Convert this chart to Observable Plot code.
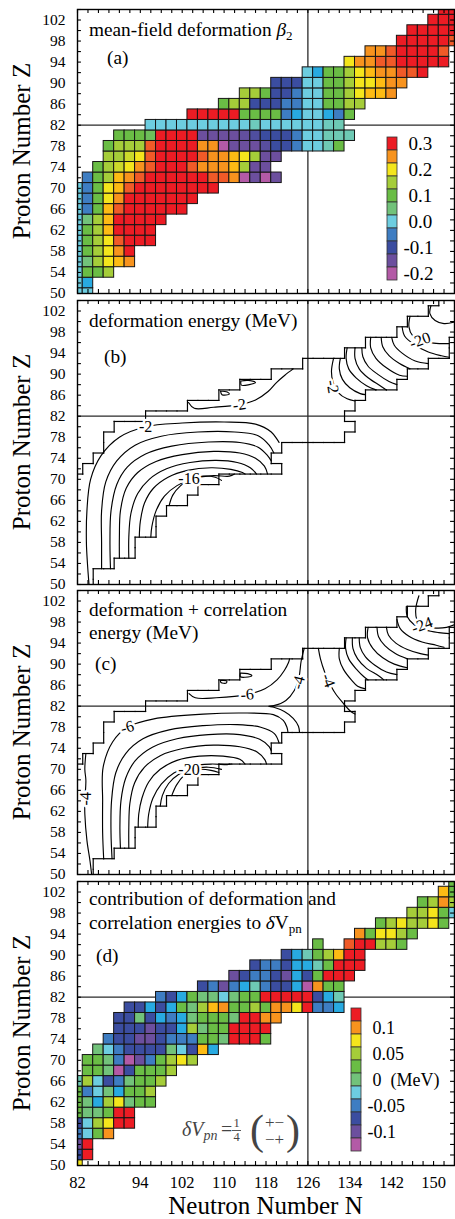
<!DOCTYPE html>
<html><head><meta charset="utf-8">
<script src="https://cdn.jsdelivr.net/npm/d3@7"></script>
<script src="https://cdn.jsdelivr.net/npm/@observablehq/plot@0.6"></script>
<style>
body{margin:0;background:#fff;overflow:hidden;}
#chart{position:relative;width:455px;height:1219px;font-family:"Liberation Serif",serif;}
#chart svg{position:absolute;left:0;overflow:visible;}
</style></head><body><div id="chart"></div>
<script>
// ---------------- data ----------------
const xTickLabels = [82, 94, 102, 110, 118, 126, 134, 142, 150];
const yTickLabels = [50, 54, 58, 62, 66, 70, 74, 78, 82, 86, 90, 94, 98, 102];
const palette = ["#b35aa6","#6c4f9e","#3b4da0","#3e7dc2","#28aae1","#6dcde0","#6ec9b4","#72c27a","#6abd45","#a5cd39","#f4e51c","#fdbb14","#f7931e","#f05a28","#ec1c24"];
const betaStops = [-0.2,-0.15,-0.1,-0.05,-0.025,0,0.025,0.05,0.1,0.15,0.2,0.225,0.25,0.275,0.3];
const dvpnStops = [-0.125,-0.1,-0.075,-0.05,-0.0375,-0.025,-0.0125,0,0.025,0.05,0.075,0.0875,0.1,0.1125,0.125];

// beta2 per even-even nucleus: row Z, first N, values for N, N+2, ...
const betaRows = [
 {Z:50,N0:82,v:[0,0]},
 {Z:52,N0:82,v:[0,-0.025]},
 {Z:54,N0:82,v:[0,0.1,0.1,0.15]},
 {Z:56,N0:82,v:[0,0.05,0.15,0.2,0.225,0.25]},
 {Z:58,N0:82,v:[0,0.1,0.15,0.2,0.25,0.3]},
 {Z:60,N0:82,v:[0,0.1,0.15,0.2,0.275,0.3,0.3,0.3]},
 {Z:62,N0:82,v:[0,0.1,0.15,0.225,0.3,0.3,0.3,0.3]},
 {Z:64,N0:82,v:[0,0.05,0.15,0.225,0.3,0.3,0.3,0.3,0.3]},
 {Z:66,N0:82,v:[0,-0.05,0.1,0.225,0.275,0.3,0.3,0.3,0.3,0.3,0.3]},
 {Z:68,N0:82,v:[0,-0.05,0.1,0.2,0.25,0.3,0.3,0.3,0.3,0.3,0.3,0.3]},
 {Z:70,N0:82,v:[0,-0.05,0.1,0.2,0.225,0.275,0.3,0.3,0.3,0.3,0.3,0.3,0.3,0.3]},
 {Z:72,N0:84,v:[-0.05,0.1,0.15,0.225,0.25,0.275,0.3,0.3,0.3,0.3,0.3,0.3,0.275,0.275,0.25,-0.2,-0.15,-0.2,-0.15]},
 {Z:74,N0:86,v:[0.1,0.15,0.175,0.2,0.25,0.275,0.3,0.3,0.3,0.275,0.25,0.25,0.25,0.225,0.15,-0.15,-0.15]},
 {Z:76,N0:88,v:[0.15,0.15,0.175,0.2,0.275,0.3,0.3,0.3,0.3,0.275,0.25,0.25,0.225,0.2,0.15,-0.15,-0.15]},
 {Z:78,N0:88,v:[0.1,0.15,0.15,0.15,0.275,0.3,0.3,0.3,0.3,0.25,0.25,-0.2,-0.15,-0.15,-0.15,-0.13,-0.1,-0.1,-0.05,0,0,0.025,0.1]},
 {Z:80,N0:90,v:[0.1,0.1,0.1,0.08,0.3,0.3,0.3,0.3,-0.15,-0.15,-0.15,-0.15,-0.14,-0.12,-0.1,-0.1,-0.1,-0.05,0,0,0.025,0.025,0.025]},
 {Z:82,N0:96,v:[0,0,0,0,0,0,0,0,0,0,0.02,0,0,0,0,0,0,0.02,0.025]},
 {Z:84,N0:104,v:[0.3,0.3,0.3,0.3,0.3,0.1,0.1,0.1,0.1,-0.05,-0.025,0,0,-0.025,-0.05,0.1]},
 {Z:86,N0:110,v:[0.1,0.15,0.15,-0.1,-0.1,-0.1,-0.05,-0.05,0,0,0.1,0.1,0.15,0.15]},
 {Z:88,N0:114,v:[0.15,0.15,0.1,-0.1,-0.1,-0.05,0,0,0.1,0.1,0.15,0.2,0.225,0.225,0.25]},
 {Z:90,N0:120,v:[-0.1,-0.1,-0.1,0,0,0.1,0.1,0.15,0.2,0.2,0.225,0.25,0.25]},
 {Z:92,N0:126,v:[0,-0.025,0.1,0.1,0.15,0.2,0.225,0.25,0.25,0.275,0.275,0.3]},
 {Z:94,N0:134,v:[0.2,0.25,0.25,0.275,0.275,0.3,0.3,0.3,0.3,0.3]},
 {Z:96,N0:138,v:[0.25,0.25,0.275,0.3,0.3,0.3,0.3,0.275]},
 {Z:98,N0:144,v:[0.3,0.3,0.3,0.3,0.3,0.275]},
 {Z:100,N0:146,v:[0.3,0.3,0.3,0.3,0.3]},
 {Z:102,N0:150,v:[0.3,0.3,0.3]},
 {Z:104,N0:152,v:[0.3,0.3]}
];

// deformation + correlation contribution to dVpn (MeV)
const dvpnRows = [
 {Z:50,N0:82,v:[0.075]},
 {Z:52,N0:82,v:[-0.075,0.125]},
 {Z:54,N0:82,v:[-0.1,0.125]},
 {Z:56,N0:82,v:[-0.05,-0.025,0.025,0.1]},
 {Z:58,N0:82,v:[-0.075,-0.025,0.05,0.075,0.125,0.125]},
 {Z:60,N0:82,v:[0.025,0,0,0.025,0.125,0.125]},
 {Z:62,N0:82,v:[0.025,0,-0.0375,0.05,0.075,0,0.025,0.025]},
 {Z:64,N0:82,v:[0.025,-0.05,-0.025,0,-0.0375,0.025,0.025,0.05]},
 {Z:66,N0:82,v:[-0.0125,0.05,-0.025,-0.075,-0.05,0,0.025,0.025,0.05]},
 {Z:68,N0:84,v:[0.025,0.025,0,-0.125,-0.075,0.025,0.025,0.025,0.05]},
 {Z:70,N0:84,v:[0.025,0.025,0,-0.05,-0.125,-0.1,-0.05,0.025,0.05,0.075,0.05]},
 {Z:72,N0:86,v:[0,-0.025,-0.05,-0.075,-0.075,-0.075,-0.075,0,-0.025,-0.075,0.0875,-0.0375]},
 {Z:74,N0:88,v:[-0.05,-0.075,-0.075,-0.1,-0.1,-0.075,-0.05,-0.05,-0.05,0.025,0.025,0,0.125,0.125,0.125,0.025]},
 {Z:76,N0:90,v:[-0.075,-0.075,-0.075,-0.1,-0.075,-0.075,-0.0375,0.05,0,0.025,0.025,0.125,0.125,0.125,0.125]},
 {Z:78,N0:90,v:[-0.075,-0.075,0,-0.075,-0.0375,-0.05,-0.0375,0,0.025,0.025,0.025,0,0.125,0.125,0.1,0.1]},
 {Z:80,N0:92,v:[-0.075,-0.075,-0.0375,-0.075,-0.0375,0.025,0,0.05,0.0875,0.1,0.025,0.025,0.05,0.025,0.1,0.1,0.075,0.125,-0.05,-0.05,-0.0375]},
 {Z:82,N0:98,v:[-0.05,-0.075,-0.0375,0.025,0,0,-0.025,0,0.025,0.025,0.125,0.125,0.125,0.125,0.125,-0.075,-0.0375,-0.0125]},
 {Z:84,N0:106,v:[-0.075,-0.05,-0.1,-0.05,-0.0375,-0.0125,-0.05,-0.075,-0.075,-0.0375,-0.125,0.1,0.025,0.025]},
 {Z:86,N0:112,v:[-0.1,-0.075,-0.05,-0.05,-0.075,-0.1,-0.0375,-0.075,0.025,0.125,0.125,0.125]},
 {Z:88,N0:116,v:[-0.075,-0.05,-0.05,-0.075,-0.0375,-0.0375,-0.0125,0.025,0.125,0.125,0.125]},
 {Z:90,N0:122,v:[-0.075,-0.0375,-0.0125,0.025,0.05,0.0875,0.125,0.125]},
 {Z:92,N0:128,v:[0.025]},
 {Z:92,N0:134,v:[0.1125,0.125,0.125,0.05,0.05,0.025]},
 {Z:94,N0:136,v:[0.1,0.025,0.075,0.075,0.05,0.025]},
 {Z:96,N0:140,v:[0.025,0.05,0.075,0.05,0.05,0.075,0.025]},
 {Z:98,N0:146,v:[0.05,0.05,0.075,0.025,-0.025]},
 {Z:100,N0:148,v:[0.025,0.05,0.1,0.05]},
 {Z:102,N0:152,v:[0.0875,0.025]},
 {Z:104,N0:154,v:[0.025]}
];

// contour lines (N, Z) of the deformation energy (b)
const contoursB = [
 {v:-2, pts:[[84.2,50],[83.9,54],[83.7,58],[83.8,64],[84.5,70],[86.5,74.5],[90,78],[95,80],[102,80.7],[110,80.9],[116,80.5],[119,79],[120.5,77]]},
 {v:-4, pts:[[86.6,53],[86.6,58],[86.6,64],[87.4,69.5],[89.5,73.5],[93,76.5],[98,78.2],[105,79],[112,79],[116.5,78.3],[118.6,76.5],[119.5,75]]},
 {v:-6, pts:[[88.3,53],[88.2,58],[88.4,64],[89.5,69],[91.5,72.3],[95,74.8],[100,76.3],[107,77.1],[113,77],[116.5,76.1],[118.3,74.5],[119,73.5]]},
 {v:-8, pts:[[90,55],[90,59],[90.2,64],[91.3,68.3],[93.5,71.3],[97,73.4],[102,74.7],[108,75.3],[113,75],[116,74],[117.7,72.5],[118.3,71]]},
 {v:-10, pts:[[91.8,55],[91.8,59],[92.2,63.5],[93.5,67.3],[95.7,70],[99,72],[103.5,73.2],[108.5,73.6],[112.5,73.2],[115,72.2],[116.2,71]]},
 {v:-12, pts:[[93.8,59],[94,62],[94.8,65.5],[96.5,68.3],[99.3,70.4],[103,71.7],[107.5,72.2],[111.3,71.9],[113.5,71.3],[114,71]]},
 {v:-14, pts:[[96,59],[96.2,61],[97,64],[98.6,66.8],[101,68.8],[104.3,70.2],[108,70.7],[111,70.6],[112,71]]},
 {v:-16, pts:[[99.5,65],[100.2,67],[101.7,68.8],[103.5,70],[106,70.6],[108.3,70.4],[109.5,69.8]]},
 {v:-2, pts:[[103.2,84.6],[104.3,83.5],[108,83.7],[112.9,84.2],[116,85.1],[118.4,86.7],[120,88.4],[121.6,89.8],[123.2,91]]},
 {v:-2, pts:[[113.2,88.7],[114.6,88.8],[116,88.4],[114.8,88],[113.3,87.9],[113.2,88.7]]},
 {v:-2, pts:[[109.3,86.8],[110.6,86.6],[111,86.2],[109.6,86.1],[109.3,86.8]]},
 {v:-2, pts:[[130.9,93],[130.5,90.5],[130.8,88.5],[131.8,86.5],[133.5,85.3],[135,84.9]]},
 {v:-4, pts:[[132.2,93],[132,91],[132.6,89],[134,87.4],[136,86.3],[137,86.1]]},
 {v:-6, pts:[[133.5,95],[133.3,93],[133.8,91],[135.2,89.3],[137.2,87.8],[139,87]]},
 {v:-8, pts:[[135,95],[135,93],[135.8,91],[137.5,89.3],[139.8,87.8],[141,87]]},
 {v:-10, pts:[[136.3,95],[136.5,93.3],[137.5,91.5],[139.3,90],[141.5,88.6],[143,88]]},
 {v:-12, pts:[[138,97],[138,95],[139,93],[141,91.2],[143.5,89.8],[145,89.6]]},
 {v:-14, pts:[[140,97],[140.3,95.2],[141.5,93.5],[143.5,92],[145.5,91]]},
 {v:-16, pts:[[142,97],[142.5,95.5],[144,94],[146.5,92.5],[149,92]]},
 {v:-18, pts:[[144,99],[144.5,97.2],[146.5,95.5],[149,94.2],[151.5,93.5],[153,93.2]]},
 {v:-20, pts:[[145.5,101],[145.3,99],[146,97.3],[147.5,96.4],[150,95.9],[153,95.8]]},
 {v:-22, pts:[[149.5,103],[149.3,101.5],[150.3,100.2],[152,99.6],[154,99.9]]}
];
const labelsB = [
 {N:95,Z:80,t:"-2",r:0},{N:103.3,Z:70.1,t:"-16",r:0},{N:112.9,Z:84.2,t:"-2",r:-8},
 {N:130.7,Z:87.6,t:"-2",r:80},{N:147.4,Z:96.4,t:"-20",r:-20}
];

// contour lines (N, Z) of the deformation + correlation energy (c)
const contoursC = [
 {v:-4, pts:[[83.6,73],[83.4,70],[83.6,67.9],[83.4,64],[83.4,61.5],[83.8,56.5],[84.4,52.5],[84.7,50]]},
 {v:-6, pts:[[87,53],[86.8,58],[86.8,64],[86.9,70.4],[88.7,75.2],[91.5,78],[96.6,79.6],[106,80.5],[114.4,80.7],[119.4,80.4],[121.3,79.3],[122,78],[122.2,77]]},
 {v:-8, pts:[[88.6,53],[88.4,58],[88.5,64],[89.3,69.3],[91.2,73],[94.5,75.8],[99.5,77.5],[106,78.3],[112.5,78.5],[117,78],[119.6,76.8],[120.5,75]]},
 {v:-10, pts:[[90.2,55],[90.1,59],[90.3,64],[91.2,68.3],[93,71.6],[96.3,74.2],[101,75.8],[107,76.6],[113,76.6],[116.8,75.7],[118.6,74.3],[119,73.5]]},
 {v:-12, pts:[[91.8,55],[91.8,59],[92,63.5],[92.9,67.4],[94.8,70.4],[97.8,72.6],[102.3,74],[108,74.6],[113,74.3],[116.3,73.3],[117.8,71.8],[118.1,71]]},
 {v:-14, pts:[[93.6,59],[93.7,61.5],[94.3,64.5],[95.6,67.6],[97.8,70],[101,71.7],[105.3,72.5],[109.8,72.5],[113,71.9],[114,71]]},
 {v:-16, pts:[[95.4,59],[95.6,61.5],[96.4,64.5],[98,67.2],[100.4,69.3],[103.6,70.6],[107.5,71],[110.6,70.9],[111.5,71]]},
 {v:-18, pts:[[97.8,63],[98.2,65],[99.4,67.3],[101.3,69],[104,70.1],[107,70.4],[109.5,70]]},
 {v:-20, pts:[[100,65],[100.9,67],[102.3,68.8],[103.5,69.6],[105.5,70],[107.5,69.8],[109,69.4]]},
 {v:-6, pts:[[103.3,84.4],[104.5,83.6],[108.5,83.6],[114.4,84.2],[117.8,85.3],[120.1,87],[121.5,88.8],[122.3,90.3],[122.5,91]]},
 {v:-6, pts:[[113.1,88.3],[114.5,88.2],[115.3,87.8],[114,87.5],[113.1,87.6],[113.1,88.3]]},
 {v:-6, pts:[[109.3,86.9],[110.5,86.8],[110.4,86.4],[109.4,86.5],[109.3,86.9]]},
 {v:-4, pts:[[125.3,93],[124.7,90.5],[124.3,87.5],[123.4,85],[121.8,83.1],[119.5,82.1],[118.5,82],[119.5,81.8],[121.5,81],[123.2,79.7],[124.2,78.2],[124.4,77]]},
 {v:-4, pts:[[128,93],[128.4,91],[129.2,88.5],[129.9,86.9],[131.2,84.5],[132.8,82.5],[134.2,81],[135,80.5]]},
 {v:-6, pts:[[132,93],[132,91],[132.8,89],[134.3,87],[135.5,85.8],[137,85.3]]},
 {v:-8, pts:[[133.3,95],[133.2,93],[133.8,91],[135.3,89],[136.7,87.6],[137.5,87]]},
 {v:-10, pts:[[134.5,95],[134.6,93],[135.5,91],[137.2,89.2],[139.5,87.8],[140.5,87]]},
 {v:-12, pts:[[135.8,95],[136,93.2],[137,91.4],[138.8,89.8],[141,88.5],[143,88]]},
 {v:-14, pts:[[137.5,97],[137.4,95],[138.4,93],[140.3,91.2],[142.5,90],[145,89.3]]},
 {v:-16, pts:[[139.2,97],[139.5,95.2],[140.7,93.5],[142.7,92],[145,91]]},
 {v:-18, pts:[[141,97],[141.4,95.5],[142.8,94],[145,92.8],[147.5,92],[149,91.7]]},
 {v:-20, pts:[[143,98.5],[143.6,96.8],[145.3,95.3],[147.8,94.2],[150.5,93.6],[152,93.2]]},
 {v:-22, pts:[[144.8,101],[145,99],[146.3,97.5],[148.5,96.5],[151,96],[153,95.8]]},
 {v:-24, pts:[[147.2,103],[146.6,100.5],[146.8,98.5],[147.8,97.4],[150,96.9],[152.5,97],[154,97.5]]}
];
const labelsC = [
 {N:83.6,Z:64.4,t:"-4",r:-90},{N:91.5,Z:78,t:"-6",r:-15},{N:103.3,Z:69.8,t:"-20",r:0},
 {N:114.4,Z:84.2,t:"-6",r:-5},{N:124.2,Z:86.5,t:"-4",r:-75},{N:129.9,Z:86.9,t:"-4",r:70},
 {N:147.8,Z:97.4,t:"-24",r:-20}
];

const legendStepsA = [0.3,0.25,0.2,0.15,0.1,0.05,0,-0.05,-0.1,-0.15,-0.2];
const legendLabelsA = [{v:0.3,t:"0.3"},{v:0.2,t:"0.2"},{v:0.1,t:"0.1"},{v:0,t:"0.0"},{v:-0.1,t:"-0.1"},{v:-0.2,t:"-0.2"}];
const legendStepsD = [0.125,0.1,0.075,0.05,0.025,0,-0.025,-0.05,-0.075,-0.1,-0.125];
const legendLabelsD = [{v:0.1,t:"0.1"},{v:0.05,t:"0.05"},{v:0,t:"0\u2002(MeV)"},{v:-0.05,t:"-0.05"},{v:-0.1,t:"-0.1"}];

// ---------------- drawing ----------------
const FONT = "Liberation Serif, serif";
const chart = document.getElementById("chart");
const W = 455, ML = 77, MR = 1, FH = 284;
const colorA = {type:"linear", domain: betaStops, range: palette, clamp: true};
const colorD = {type:"linear", domain: dvpnStops, range: palette, clamp: true};

const cells = rows => rows.flatMap(r => r.v.map((v, i) => ({N: r.N0 + 2 * i, Z: r.Z, v})));
const cellsA = cells(betaRows), cellsD = cells(dvpnRows);

function outline(cs) {
  const key = (n, z) => n + "," + z;
  const s = new Set(cs.map(c => key(c.N, c.Z)));
  const segs = [];
  for (const {N, Z} of cs) {
    if (!s.has(key(N - 2, Z))) segs.push({x1: N - 1, y1: Z - 1, x2: N - 1, y2: Z + 1});
    if (!s.has(key(N + 2, Z))) segs.push({x1: N + 1, y1: Z - 1, x2: N + 1, y2: Z + 1});
    if (!s.has(key(N, Z - 2))) segs.push({x1: N - 1, y1: Z - 1, x2: N + 1, y2: Z - 1});
    if (!s.has(key(N, Z + 2))) segs.push({x1: N - 1, y1: Z + 1, x2: N + 1, y2: Z + 1});
  }
  return segs;
}
const outlineSegs = outline(cellsA);

const refLines = [
  Plot.ruleY([82], {stroke: "#2a2a2a", strokeWidth: 1.3}),
  Plot.ruleX([126], {stroke: "#2a2a2a", strokeWidth: 1.3})
];
const cellMarks = (cs) => Plot.rect(cs, {x1: d => d.N - 1, x2: d => d.N + 1, y1: d => d.Z - 1, y2: d => d.Z + 1, fill: "v", stroke: "#151515", strokeWidth: 1, clip: true});
const contourMarks = (cons, labs) => [
  Plot.link(outlineSegs, {x1: "x1", y1: "y1", x2: "x2", y2: "y2", stroke: "black", strokeWidth: 1.2, strokeLinecap: "square", clip: true}),
  Plot.line(cons.flatMap((c, i) => c.pts.map(p => ({N: p[0], Z: p[1], k: i}))), {x: "N", y: "Z", z: "k", curve: "catmull-rom", stroke: "black", strokeWidth: 1.15, clip: true}),
  Plot.text(labs, {x: "N", y: "Z", text: "t", rotate: "r", fontSize: 16, fill: "black", stroke: "white", strokeWidth: 5, paintOrder: "stroke"})
];

function panel(frameTop, color, marks, withX) {
  const mT = 1, mB = withX ? 55 : 1, tl = 0.75;
  const xt = d3.range(82, 155, 2), yt = d3.range(50, 105, 2);
  const tickStyle = {stroke: "black", strokeWidth: 1.1};
  const svg = Plot.plot({
    width: W, height: FH + mT + mB,
    marginLeft: ML, marginRight: MR, marginTop: mT, marginBottom: mB,
    x: {domain: [82, 154]}, y: {domain: [50, 104]},
    color,
    style: {fontFamily: FONT, fontSize: "16px", background: "transparent", color: "black", overflow: "visible"},
    marks: [
      ...marks,
      Plot.ruleX(xt, {y1: 50, y2: 50 + tl, ...tickStyle}),
      Plot.ruleX(xt, {y1: 104 - tl, y2: 104, ...tickStyle}),
      Plot.ruleY(yt, {x1: 82, x2: 82 + tl, ...tickStyle}),
      Plot.ruleY(yt, {x1: 154 - tl, x2: 154, ...tickStyle}),
      Plot.frame({stroke: "black", strokeWidth: 1.4}),
      Plot.axisY(yTickLabels, {anchor: "left", tickSize: 0, tickPadding: 12, fontSize: 15.5, label: null, tickFormat: d => String(d)}),
      withX ? Plot.axisX(xTickLabels, {anchor: "bottom", tickSize: 0, tickPadding: 11, fontSize: 16.5, label: null, tickFormat: d => String(d)})
            : Plot.axisX([], {label: null})
    ]
  });
  svg.style.top = (frameTop - mT) + "px";
  chart.append(svg);
}

panel(9, colorA, [...refLines, cellMarks(cellsA)], false);
panel(300, undefined, [...refLines, ...contourMarks(contoursB, labelsB)], false);
panel(590, undefined, [...refLines, ...contourMarks(contoursC, labelsC)], false);
panel(881, colorD, [...refLines, cellMarks(cellsD)], true);

function legend(left, top, h, steps, labels, color, fs) {
  const svg = Plot.plot({
    width: 90, height: h, marginLeft: 0, marginRight: 80, marginTop: 0, marginBottom: 0,
    y: {type: "band", domain: steps, padding: 0, axis: null},
    color,
    style: {fontFamily: FONT, fontSize: fs + "px", background: "transparent", color: "black", overflow: "visible"},
    marks: [
      Plot.cell(steps, {y: d => d, fill: d => d, stroke: "#333", strokeWidth: 0.8}),
      Plot.text(labels.filter(d => d.v >= 0), {y: "v", text: "t", frameAnchor: "right", textAnchor: "start", dx: 11, fontSize: fs}),
      Plot.text(labels.filter(d => d.v < 0), {y: "v", text: "t", frameAnchor: "right", textAnchor: "start", dx: 6, fontSize: fs})
    ]
  });
  svg.style.left = left + "px";
  svg.style.top = top + "px";
  chart.append(svg);
}
legend(387, 134, 148, legendStepsA, legendLabelsA, colorA, 19);
legend(351, 1007, 145, legendStepsD, legendLabelsD, colorD, 18);

// ---------------- text overlay ----------------
const ov = d3.select(chart).append("svg").attr("width", W).attr("height", 1219)
  .style("top", "0px").style("pointer-events", "none")
  .attr("font-family", FONT).attr("fill", "black");
const T = (x, y, s, fs, extra = {}) => {
  const t = ov.append("text").attr("x", x).attr("y", y).attr("font-size", fs).text(s);
  for (const k in extra) t.attr(k, extra[k]);
  return t;
};
const PF = 19.3;
// panel (a)
const ta = T(89, 36, "mean-field deformation ", PF);
ta.append("tspan").attr("font-style", "italic").text("β");
ta.append("tspan").attr("font-size", 13).attr("dy", 4).text("2");
T(107, 64, "(a)", PF);
// panel (b)
T(89, 327, "deformation energy (MeV)", PF);
T(104, 363, "(b)", PF);
// panel (c)
T(89, 616, "deformation + correlation", PF);
T(89, 639, "energy (MeV)", PF);
T(95, 670, "(c)", PF);
// panel (d)
T(89, 905, "contribution of deformation and", PF);
const td = T(89, 929, "correlation energies to ", PF);
td.append("tspan").attr("font-style", "italic").text("δ");
td.append("tspan").text("V");
td.append("tspan").attr("font-size", 13).attr("dy", 4).text("pn");
T(96, 962, "(d)", PF);
// formula in (d)
const g = "#444";
const f1 = T(182, 1136, "", 20, {fill: g});
f1.append("tspan").attr("font-style", "italic").text("δV");
f1.append("tspan").attr("font-style", "italic").attr("font-size", 14).attr("dy", 4).text("pn");
T(221, 1136, "=", 20, {fill: g});
const fr = T(236.5, 1127, "", 12.5, {fill: g, "text-anchor": "middle"});
fr.append("tspan").attr("x", 236.5).text("1");
fr.append("tspan").attr("x", 236.5).attr("dy", 14).text("4");
ov.append("line").attr("x1", 232).attr("x2", 241).attr("y1", 1130.5).attr("y2", 1130.5).attr("stroke", g).attr("stroke-width", 0.9);
const mx = T(0, 0, "", 17, {fill: g});
mx.append("tspan").attr("x", 250).attr("y", 1144).attr("font-size", 42).text("(");
mx.append("tspan").attr("x", 265).attr("y", 1128).text("+\u2212");
mx.append("tspan").attr("x", 265).attr("y", 1145).text("\u2212+");
mx.append("tspan").attr("x", 286).attr("y", 1144).attr("font-size", 42).text(")");
// axis titles
for (const cy of [151, 442, 732, 1023]) {
  T(0, 0, "Proton Number Z", 25, {"text-anchor": "middle", transform: `translate(30,${cy}) rotate(-90)`});
}
T(265.5, 1214, "Neutron Number N", 25, {"text-anchor": "middle"});
</script>
</body></html>
